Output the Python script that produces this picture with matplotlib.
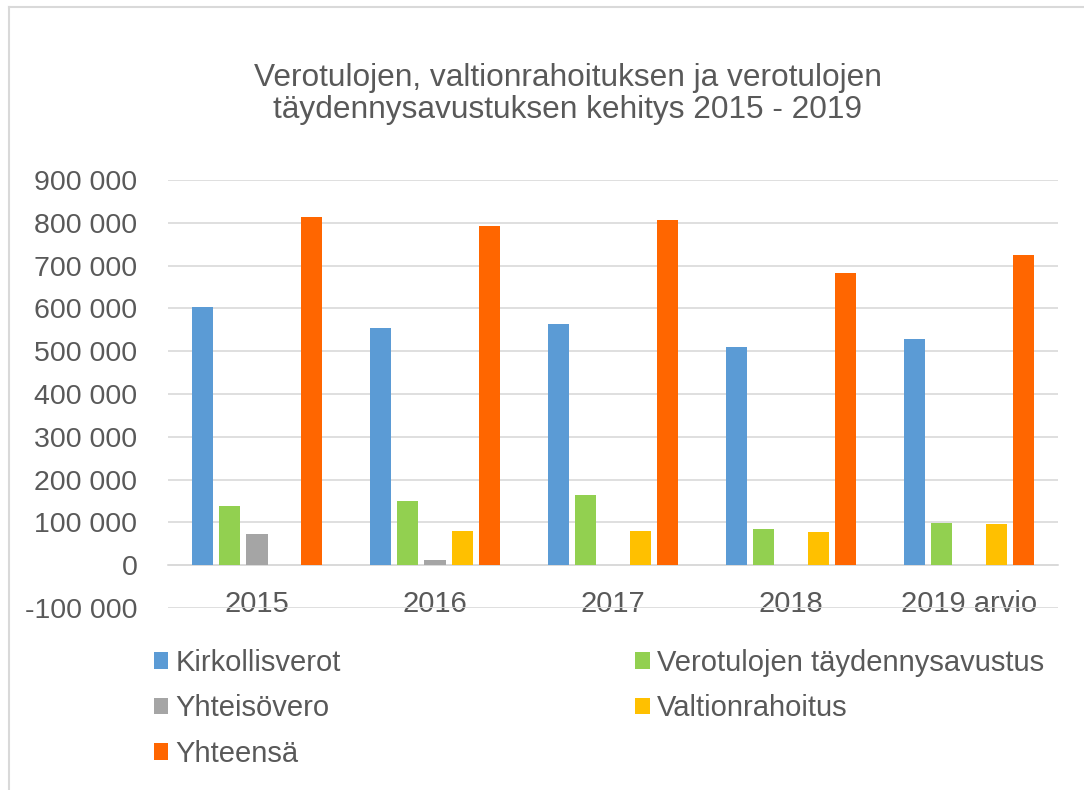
import matplotlib.pyplot as plt
import matplotlib.ticker as mticker
import numpy as np
from matplotlib.lines import Line2D

plt.rcParams['font.family'] = ['Liberation Sans', 'DejaVu Sans']

# data
years = ['2015', '2016', '2017', '2018', '2019 arvio']
kirkollisverot = [603000, 555000, 564000, 509000, 529000]
taydennysavustus = [138000, 149000, 164000, 85000, 98000]
yhteisovero = [72000, 11000, 0, 0, 0]
valtionrahoitus = [0, 80000, 79000, 78000, 96000]
yhteensa = [814000, 793000, 806000, 684000, 725000]

series = [('Kirkollisverot', kirkollisverot, '#5B9BD5'),
          ('Verotulojen täydennysavustus', taydennysavustus, '#92D050'),
          ('Yhteisövero', yhteisovero, '#A5A5A5'),
          ('Valtionrahoitus', valtionrahoitus, '#FFC000'),
          ('Yhteensä', yhteensa, '#FF6600')]

txt = '#595959'
fig = plt.figure(figsize=(10.84, 7.90), dpi=100)
ax = fig.add_axes([0.155, 0.2304, 0.821, 0.5416])

x = np.arange(len(years))
step = 0.1535
width = 0.121
handles = []
for i, (name, vals, col) in enumerate(series):
    b = ax.bar(x + (i - 2) * step, vals, width, color=col, label=name, zorder=3)
    handles.append(b)

ax.set_xlim(-0.5, len(years) - 0.5)
ax.set_ylim(-100000, 900000)
ax.set_yticks(np.arange(-100000, 900001, 100000))
ax.yaxis.set_major_formatter(mticker.FuncFormatter(lambda v, p: f"{int(v):,}".replace(',', ' ')))
ax.grid(axis='y', color='#D9D9D9', linewidth=1.2, zorder=0)
for s in ['top', 'right', 'left']:
    ax.spines[s].set_visible(False)
ax.spines['bottom'].set_position(('data', 0))
ax.spines['bottom'].set_color('#D9D9D9')
ax.spines['bottom'].set_linewidth(1.2)
ax.set_xticks(x)
ax.set_xticklabels(years)
ax.tick_params(axis='x', length=0, pad=18, labelsize=21, labelcolor=txt)
ax.tick_params(axis='y', length=0, pad=22, labelsize=20.5, labelcolor=txt)

fig.text(0.5235, 0.881, 'Verotulojen, valtionrahoituksen ja verotulojen\ntäydennysavustuksen kehitys 2015 - 2019',
         ha='center', va='center', fontsize=22.8, color=txt, linespacing=1.1)

# legend fills column by column, so order the handles for row-wise reading
order = [0, 2, 4, 1, 3]
fig.legend(handles=[handles[i] for i in order], loc='upper left', bbox_to_anchor=(0.1175, 0.212), ncol=2,
           frameon=False, fontsize=21, labelcolor=txt, handlelength=0.5, handleheight=0.5,
           handletextpad=0.25, columnspacing=10.1, labelspacing=0.6)

# outer frame: only top and left edges are visible in the crop
fig.add_artist(Line2D([0.0085, 1.0], [0.991, 0.991], transform=fig.transFigure, color='#D9D9D9', linewidth=1.5))
fig.add_artist(Line2D([0.0085, 0.0085], [0.0, 0.991], transform=fig.transFigure, color='#D9D9D9', linewidth=1.5))

fig.savefig('out.png', dpi=100)
